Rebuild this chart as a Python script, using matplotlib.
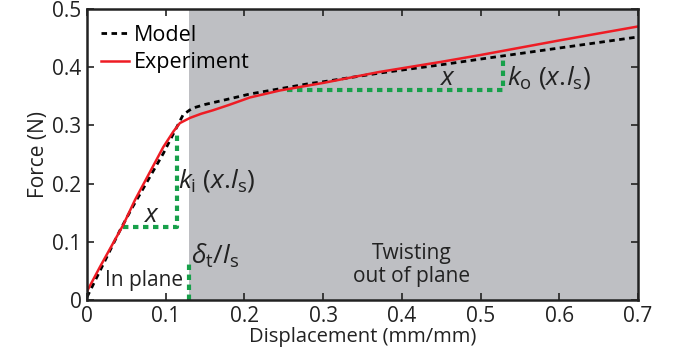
import matplotlib
matplotlib.use("Agg")
import matplotlib.pyplot as plt

plt.rcParams['font.family'] = ['Open Sans', 'DejaVu Sans']
plt.rcParams['mathtext.fontset'] = 'custom'
plt.rcParams['mathtext.rm'] = 'Open Sans'
plt.rcParams['mathtext.it'] = 'Open Sans:italic'

# Data
exp_x = [0.0, 0.0165, 0.046, 0.061, 0.097, 0.110, 0.118, 0.131, 0.145, 0.160, 0.180, 0.207, 0.245, 0.283, 0.30, 0.372, 0.449, 0.50, 0.60, 0.70]
exp_y = [0.015, 0.057, 0.129, 0.172, 0.263, 0.290, 0.304, 0.313, 0.320, 0.326, 0.335, 0.348, 0.360, 0.369, 0.373, 0.392, 0.409, 0.421, 0.446, 0.470]
mod_x = [0.0, 0.042, 0.058, 0.097, 0.122, 0.130, 0.135, 0.150, 0.182, 0.207, 0.245, 0.283, 0.30, 0.372, 0.449, 0.50, 0.60, 0.70]
mod_y = [0.005, 0.120, 0.160, 0.252, 0.318, 0.326, 0.330, 0.336, 0.346, 0.354, 0.363, 0.372, 0.375, 0.390, 0.404, 0.414, 0.433, 0.452]

shade_start = 0.13
x_ticks = [0, 0.1, 0.2, 0.3, 0.4, 0.5, 0.6, 0.7]
x_ticklabels = ['0', '0.1', '0.2', '0.3', '0.4', '0.5', '0.6', '0.7']
y_ticks = [0, 0.1, 0.2, 0.3, 0.4, 0.5]
y_ticklabels = ['0', '0.1', '0.2', '0.3', '0.4', '0.5']

# green guide lines (x-list, y-list)
gl_in_x = [0.046, 0.114, 0.114]
gl_in_y = [0.125, 0.125, 0.287]
gl_out_x = [0.254, 0.528, 0.528]
gl_out_y = [0.361, 0.361, 0.412]
gl_t_x = [0.130, 0.130]
gl_t_y = [0.0, 0.066]

fig = plt.figure(figsize=(6.83, 3.61), dpi=100)
ax = fig.add_axes([0.1274, 0.169, 0.8066, 0.806])

ax.axvspan(shade_start, 0.7, color='#bebfc3', lw=0, zorder=0)

green = '#17a04a'
gls = (0, (1.3, 1.1))
ax.plot(gl_in_x, gl_in_y, color=green, lw=3, ls=gls, zorder=2)
ax.plot(gl_out_x, gl_out_y, color=green, lw=3, ls=gls, zorder=2)
ax.plot(gl_t_x, gl_t_y, color=green, lw=3, ls=gls, zorder=2)

ax.plot(mod_x, mod_y, color='black', lw=2, ls=(0, (2, 1.6)), label='Model', zorder=3)
ax.plot(exp_x, exp_y, color='#ee1c24', lw=1.8, label='Experiment', zorder=4)

ax.set_xlim(0, 0.7)
ax.set_ylim(0, 0.5)
ax.set_xticks(x_ticks)
ax.set_xticklabels(x_ticklabels)
ax.set_yticks(y_ticks)
ax.set_yticklabels(y_ticklabels)
ax.tick_params(direction='in', top=True, right=True, length=5, width=1.2,
               labelsize=15, colors='#222222', pad=4)
for s in ax.spines.values():
    s.set_linewidth(1.8)
    s.set_color('#222222')
    s.set_zorder(6)

ax.set_xlabel('Displacement (mm/mm)', fontsize=14.5, labelpad=0, color='#222222')
ax.set_ylabel('Force (N)', fontsize=15, labelpad=2, color='#222222')

leg = ax.legend(loc='upper left', frameon=False, fontsize=15.5, handlelength=1.3,
                handletextpad=0.2, borderaxespad=0.0, labelspacing=0.3,
                bbox_to_anchor=(0.01, 0.975))

tc = '#222222'
ax.text(0.083, 0.146, r'$x$', fontsize=19, ha='center', va='center', color=tc)
ax.text(0.459, 0.380, r'$x$', fontsize=19, ha='center', va='center', color=tc)
ax.text(0.116, 0.206, r'$k_{\mathrm{i}}\;(x{.}\!l_{\mathrm{s}})$', fontsize=19, ha='left', va='center', color=tc)
ax.text(0.534, 0.382, r'$k_{\mathrm{o}}\;(x{.}\!l_{\mathrm{s}})$', fontsize=19, ha='left', va='center', color=tc)
ax.text(0.132, 0.076, r'$\delta_{\mathrm{t}}/l_{\mathrm{s}}$', fontsize=19, ha='left', va='center', color=tc)
ax.text(0.072, 0.034, 'In plane', fontsize=15, ha='center', va='center', color=tc)
ax.text(0.413, 0.060, 'Twisting\nout of plane', fontsize=15, ha='center', va='center',
        color=tc, linespacing=1.15)

fig.savefig('out.png', dpi=100)
